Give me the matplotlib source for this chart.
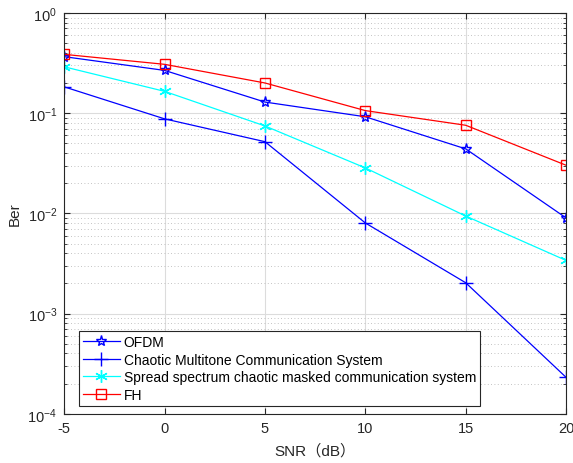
import numpy as np
import matplotlib
matplotlib.use('Agg')
import matplotlib.pyplot as plt

plt.rcParams['font.family'] = ['Liberation Sans', 'Noto Sans CJK SC', 'DejaVu Sans']
plt.rcParams['mathtext.fontset'] = 'custom'
plt.rcParams['mathtext.rm'] = 'Liberation Sans'
plt.rcParams['axes.unicode_minus'] = False

snr = [-5, 0, 5, 10, 15, 20]
ber_ofdm = [0.366, 0.267, 0.129, 0.092, 0.044, 0.0090]
ber_cmcs = [0.183, 0.0877, 0.0519, 0.00802, 0.00203, 0.000231]
ber_sscm = [0.290, 0.165, 0.0745, 0.0284, 0.0094, 0.00339]
ber_fh = [0.386, 0.307, 0.200, 0.106, 0.0757, 0.0302]
labels = ['OFDM', 'Chaotic Multitone Communication System',
          'Spread spectrum chaotic masked communication system', 'FH']

fig = plt.figure(figsize=(5.73, 4.64), dpi=100)
ax = fig.add_axes([0.112, 0.106, 0.876, 0.864])

ax.semilogy(snr, ber_ofdm, color='b', marker='*', mfc='none', ms=8, lw=0.9, label=labels[0])
ax.semilogy(snr, ber_cmcs, color='b', marker='+', ms=10, lw=0.9, label=labels[1])
ax.semilogy(snr, ber_sscm, color='#00ffff', marker=(6, 2, 0), ms=9, lw=0.9, label=labels[2])
ax.semilogy(snr, ber_fh, color='r', marker='s', mfc='none', ms=7, lw=0.9, label=labels[3])

ax.set_xlim(-5, 20)
ax.set_ylim(1e-4, 1)
ax.set_xticks(snr)
ax.grid(True, which='major', color='#dcdcdc', lw=0.8, ls='-')
ax.grid(True, which='minor', axis='y', color='#b0b0b0', lw=0.6, ls=(0, (1, 3)))
ax.tick_params(which='both', direction='in', top=True, right=True, labelsize=10.5, colors='#262626')
ax.tick_params(which='major', length=4, pad=5)
ax.tick_params(which='minor', length=2)
for s in ax.spines.values():
    s.set_color('#262626')
    s.set_linewidth(0.8)

ax.set_xlabel('SNR（dB）', fontsize=11, color='#262626', labelpad=6)
ax.set_ylabel('Ber', fontsize=11, color='#262626')
ax.yaxis.set_label_coords(-0.084, 0.5)

leg = ax.legend(loc='lower left', bbox_to_anchor=(0.03, 0.02), fontsize=10,
                fancybox=False, framealpha=1, edgecolor='#262626',
                borderpad=0.3, labelspacing=0.25, handlelength=2.6,
                handletextpad=0.3, borderaxespad=0)
leg.get_frame().set_linewidth(0.8)

fig.savefig('out.png', dpi=100)
